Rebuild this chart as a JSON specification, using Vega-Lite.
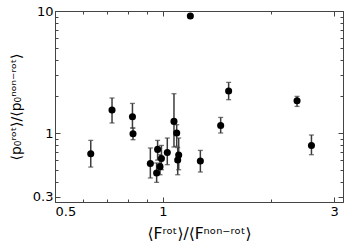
{
  "$schema": "https://vega.github.io/schema/vega-lite/v6.json",
  "autosize": {"type": "none"},
  "width": 288,
  "height": 191,
  "padding": {"left": 55, "top": 11, "right": 6, "bottom": 47},
  "config": {
    "view": {"stroke": null},
    "font": "DejaVu Sans",
    "axis": {
      "grid": false,
      "domainColor": "#444444",
      "domainWidth": 1,
      "tickColor": "#444444",
      "tickWidth": 1,
      "labelFont": "DejaVu Sans",
      "labelFontSize": 13,
      "labelColor": "#000000",
      "titleFont": "DejaVu Sans",
      "titleFontSize": 16,
      "titleFontWeight": "normal",
      "titleColor": "#000000"
    }
  },
  "data": {
    "values": [
      {"x": 0.629, "y": 0.676, "lo": 0.526, "hi": 0.870},
      {"x": 0.721, "y": 1.543, "lo": 1.208, "hi": 1.936},
      {"x": 0.822, "y": 1.360, "lo": 1.099, "hi": 1.748},
      {"x": 0.825, "y": 0.987, "lo": 0.881, "hi": 1.099},
      {"x": 0.922, "y": 0.563, "lo": 0.428, "hi": 0.754},
      {"x": 0.960, "y": 0.470, "lo": 0.394, "hi": 0.568},
      {"x": 0.966, "y": 0.734, "lo": 0.600, "hi": 0.870},
      {"x": 0.981, "y": 0.530, "lo": 0.455, "hi": 0.664},
      {"x": 0.990, "y": 0.619, "lo": 0.500, "hi": 0.791},
      {"x": 1.028, "y": 0.693, "lo": 0.550, "hi": 0.910},
      {"x": 1.073, "y": 1.245, "lo": 0.768, "hi": 2.100},
      {"x": 1.092, "y": 1.000, "lo": 0.777, "hi": 1.170},
      {"x": 1.099, "y": 0.601, "lo": 0.455, "hi": 0.760},
      {"x": 1.106, "y": 0.660, "lo": 0.500, "hi": 0.910},
      {"x": 1.192, "y": 9.100},
      {"x": 1.271, "y": 0.589, "lo": 0.479, "hi": 0.720},
      {"x": 1.448, "y": 1.154, "lo": 1.000, "hi": 1.342},
      {"x": 1.524, "y": 2.210, "lo": 1.875, "hi": 2.600},
      {"x": 2.364, "y": 1.840, "lo": 1.652, "hi": 1.996},
      {"x": 2.593, "y": 0.791, "lo": 0.664, "hi": 0.963}
    ]
  },
  "layer": [
    {
      "transform": [{"filter": "isValid(datum.lo)"}],
      "mark": {"type": "rule", "color": "#3c3c3c", "strokeWidth": 1.5},
      "encoding": {
        "x": {"field": "x", "type": "quantitative",
          "scale": {"type": "log", "domain": [0.5, 3.175], "nice": false, "zero": false},
          "axis": {"orient": "bottom", "values": [0.6, 0.7, 0.8, 0.9, 2], "labels": false, "tickSize": -3, "title": null}},
        "y": {"field": "lo", "type": "quantitative",
          "scale": {"type": "log", "domain": [0.272, 10], "nice": false, "zero": false},
          "axis": {"orient": "left", "values": [0.4, 0.5, 0.6, 0.7, 0.8, 0.9, 2, 3, 4, 5, 6, 7, 8, 9], "labels": false, "tickSize": -3, "title": null}},
        "y2": {"field": "hi"}
      }
    },
    {
      "transform": [{"filter": "isValid(datum.lo)"}],
      "mark": {"type": "tick", "orient": "horizontal", "color": "#3c3c3c", "size": 5, "thickness": 1.3},
      "encoding": {
        "x": {"field": "x", "type": "quantitative",
          "axis": {"orient": "top", "values": [0.6, 0.7, 0.8, 0.9, 2], "labels": false, "tickSize": -3, "title": null}},
        "y": {"field": "lo", "type": "quantitative",
          "axis": {"orient": "right", "values": [0.4, 0.5, 0.6, 0.7, 0.8, 0.9, 2, 3, 4, 5, 6, 7, 8, 9], "labels": false, "tickSize": -3, "title": null}}
      }
    },
    {
      "transform": [{"filter": "isValid(datum.hi)"}],
      "mark": {"type": "tick", "orient": "horizontal", "color": "#3c3c3c", "size": 5, "thickness": 1.3},
      "encoding": {
        "x": {"field": "x", "type": "quantitative",
          "axis": {"orient": "top", "values": [0.5, 1, 3], "labels": false, "tickSize": -5, "title": null}},
        "y": {"field": "hi", "type": "quantitative",
          "axis": {"orient": "right", "values": [0.3, 1, 10], "labels": false, "tickSize": -5, "title": null}}
      }
    },
    {
      "mark": {"type": "point", "filled": true, "color": "#000000", "opacity": 1, "size": 50, "shape": "circle"},
      "encoding": {
        "x": {"field": "x", "type": "quantitative",
          "axis": {"orient": "bottom", "values": [0.5, 1, 3], "tickSize": -5, "labelPadding": 8,
            "labelExpr": "datum.value == 0.5 ? '0.5' : datum.value == 1 ? '1' : '3'",
            "title": "⟨Fʳᵒᵗ⟩/⟨Fⁿᵒⁿ⁻ʳᵒᵗ⟩", "titleFontSize": 15.5, "titlePadding": 8}},
        "y": {"field": "y", "type": "quantitative",
          "axis": {"orient": "left", "values": [0.3, 1, 10], "tickSize": -5, "labelPadding": 7,
            "labelExpr": "datum.value == 0.3 ? '0.3' : datum.value == 1 ? '1' : '10'",
            "title": "⟨p₀ʳᵒᵗ⟩/⟨p₀ⁿᵒⁿ⁻ʳᵒᵗ⟩", "titleFontSize": 14, "titlePadding": 9}}
      }
    }
  ],
  "resolve": {"axis": {"x": "independent", "y": "independent"}}
}
